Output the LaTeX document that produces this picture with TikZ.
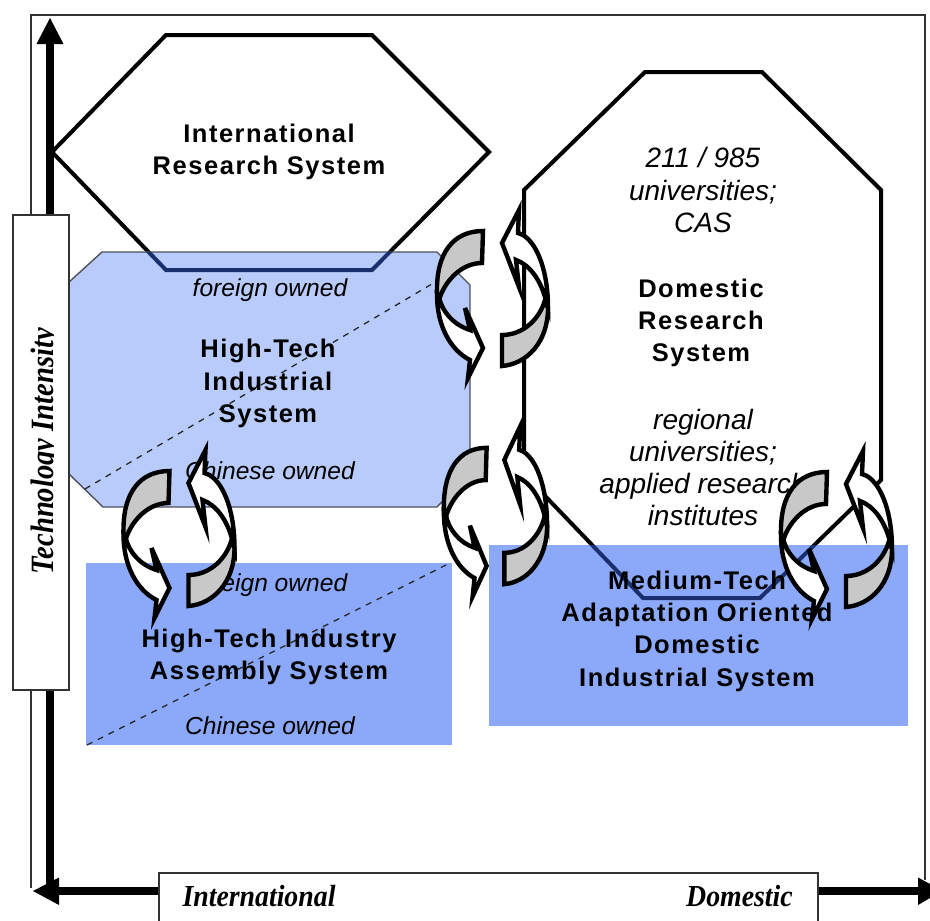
\documentclass[tikz,border=0pt]{standalone}
\usepackage{fontspec}
\setmainfont{Liberation Sans}
\newfontfamily\serifax{Liberation Serif}
\definecolor{lightbox}{HTML}{B8CBFB}
\definecolor{midbox}{HTML}{8CA9F9}
\definecolor{navyline}{HTML}{1A2F6E}
\definecolor{framec}{HTML}{333333}
\definecolor{cycgray}{HTML}{C8C8C8}
\tikzset{
  x=1pt,y=-1pt,
  frameline/.style={draw=framec,line width=1.6pt},
  sysline/.style={draw=black,line width=4pt,line join=miter},
  navysys/.style={draw=navyline,line width=4pt,line join=miter},
  lightsys/.style={fill=lightbox,draw=framec!80!lightbox,line width=1.4pt},
  midsys/.style={fill=midbox},
  divider/.style={draw=black!85,line width=1.3pt,dash pattern=on 6pt off 6pt},
  axisline/.style={draw=black,line width=8pt},
  axishead/.style={fill=black},
  boldtxt/.style={font=\fontsize{25.5}{32.3}\selectfont\bfseries\addfontfeature{LetterSpace=6},align=center,inner sep=0pt},
  itx/.style={font=\fontsize{24.6}{32.3}\selectfont\itshape,align=center,inner sep=0pt},
  itxbig/.style={font=\fontsize{28}{32.3}\selectfont\itshape,align=center,inner sep=0pt},
  axlabel/.style={font=\serifax\fontsize{27.8}{30}\selectfont\bfseries\itshape,inner sep=0pt,anchor=base},
  cycg/.style={fill=cycgray,draw=black,line width=4.4pt,line join=miter},
  cycw/.style={fill=white,draw=black,line width=4.4pt,line join=miter},
  pics/cyc/.style={code={
    \draw[cycg] (-9,-69) .. controls (-38,-69) and (-56,-48) .. (-55,-7)
       -- (-52,-3) .. controls (-46,-20) and (-30,-37) .. (-10,-37) -- cycle;
    \draw[cycw] (-55,-5) .. controls (-55,25) and (-42,50) .. (-22,60)
       -- (-24,78) -- (-9,48) -- (-27,8) -- (-22,30)
       .. controls (-38,25) and (-50,12) .. (-53,-3) -- cycle;
    \draw[cycg] (10,35) -- (10,66) .. controls (35,64) and (56,42) .. (56,8)
       -- (53,0) .. controls (48,18) and (32,35) .. (10,35) -- cycle;
    \draw[cycw] (56,7) .. controls (56,-25) and (47,-55) .. (31,-65)
       -- (26,-67) -- (27,-90) -- (10,-57) -- (27,-13) -- (24,-40)
       .. controls (38,-35) and (48,-20) .. (53,-3) -- cycle;
  }}
}
\def\hexpath{(52,152) -- (166,35) -- (372,35) -- (489,152) -- (372,270) -- (166,270) -- cycle}
\def\octpath{(524,190) -- (645,72) -- (762,72) -- (881,190) -- (881,480) -- (760,598) -- (643,598) -- (524,474) -- cycle}
\def\lightpath{(68,283) -- (102,252) -- (437,252) -- (470,285) -- (470,473) -- (437,507) -- (103,507) -- (68,473) -- cycle}
\begin{document}
\begin{tikzpicture}
\useasboundingbox (0,0) rectangle (930,921);
\fill[white] (0,0) rectangle (930,921);
% frame
\draw[frameline] (31,888) -- (31,15) -- (925,15) -- (925,880);
% axes
\coordinate (axtop) at (50,40);
\coordinate (axcorner) at (50,891);
\coordinate (axleft) at (45,891);
\coordinate (axright) at (925,891);
\draw[axisline] (axtop) -- (axcorner);
\draw[axisline] (axleft) -- (axright);
\fill[axishead] (50,18) -- (63.5,44) -- (36.5,44) -- cycle;
\fill[axishead] (33,891) -- (59,877.5) -- (59,905) -- cycle;
\fill[axishead] (918,877.5) -- (930,884) -- (930,898) -- (918,905) -- cycle;
% systems
\draw[sysline,fill=white] \hexpath;
\draw[sysline,fill=white] \octpath;
\path[lightsys] \lightpath;
\fill[midsys] (86,563) rectangle (452,745);
\fill[midsys] (489,545) rectangle (908,726);
\begin{scope}
  \clip \lightpath;
  \draw[navysys] \hexpath;
\end{scope}
\begin{scope}
  \clip (489,545) rectangle (908,726);
  \draw[navysys] \octpath;
\end{scope}
% side label boxes
\draw[frameline,fill=white] (13,215) rectangle (69,690);
\draw[frameline,fill=white] (159,921) -- (159,873) -- (818,873) -- (818,921);
\begin{scope}
  \clip (20,220) rectangle (53.5,680);
  \node[axlabel,rotate=90] (ti) at (53,451) {\scalebox{1.03}[1.17]{Technology Intensity}};
\end{scope}
\node[axlabel] (intl) at (259,906.7) {\scalebox{1}[1.1]{International}};
\node[axlabel] (dom) at (739.5,906.7) {\scalebox{1}[1.1]{Domestic}};
% dividers
\coordinate (d1a) at (85,489);
\coordinate (d1b) at (437,281);
\coordinate (d2a) at (87,745);
\coordinate (d2b) at (450,563);
\draw[divider] (d1a) -- (d1b);
\draw[divider] (d2a) -- (d2b);
% texts
\node[boldtxt] (irs) at (269,152) {International\\Research System};
\node[itx] (fo1) at (270,290.5) {foreign owned};
\node[boldtxt] (hti) at (268,383.5) {High-Tech\\Industrial\\System};
\node[itx] (co1) at (270,471) {Chinese owned};
\node[itx] (fo2) at (270,585.5) {foreign owned};
\node[boldtxt] (hta) at (269,657) {High-Tech Industry\\Assembly System};
\node[itx] (co2) at (270,725.5) {Chinese owned};
\node[itxbig] (ru1) at (703,190) {211 / 985\\universities;\\CAS};
\node[boldtxt] (drs) at (701,323) {Domestic\\Research\\System};
\node[itxbig] (ru2) at (703,467.5) {regional\\universities;\\applied research\\institutes};
\node[boldtxt] (mta) at (697,631) {Medium-Tech\\Adaptation Oriented\\Domestic\\Industrial System};
% cycles
\pic (c1) at (492,300) {cyc};
\pic[xscale=.93,yscale=1.01] (c2) at (495,517.5) {cyc};
\pic (c3) at (178.5,540) {cyc};
\pic (c4) at (836,541) {cyc};
\end{tikzpicture}
\end{document}
